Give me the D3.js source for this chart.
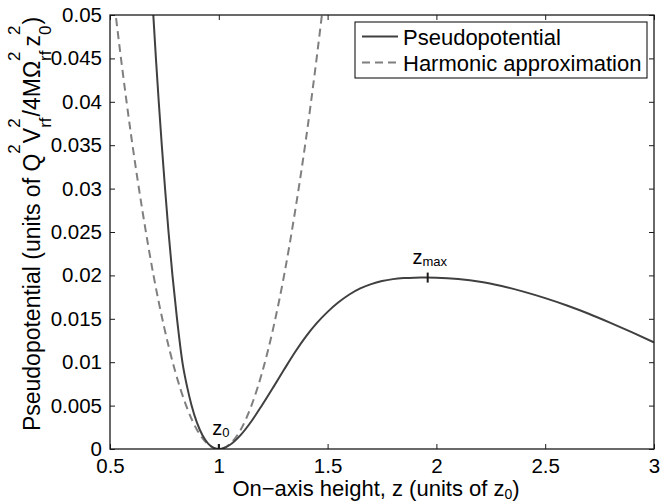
<!DOCTYPE html>
<html>
<head>
<meta charset="utf-8">
<script src="https://cdn.jsdelivr.net/npm/d3@7"></script>
<style>
  body { margin: 0; background: #fff; }
  svg { display: block; }
  text { font-family: "Liberation Sans", Arial, Helvetica, sans-serif; fill: #000; }
</style>
</head>
<body>
<svg id="chart" width="660" height="501"></svg>
<script>
// On-axis pseudopotential (units of Q^2 V_rf^2 / 4 M Omega_rf^2 z0^2) vs height z (units of z0)
const zPseudo = [0.68, 0.699, 0.711, 0.724, 0.738, 0.753, 0.769, 0.787, 0.808, 0.834, 0.855, 0.874,
                 0.90, 0.925, 0.95, 0.975, 1.0, 1.025, 1.05, 1.10, 1.15, 1.20, 1.25, 1.30,
                 1.35, 1.40, 1.45, 1.50, 1.55, 1.60, 1.65, 1.70, 1.75, 1.80, 1.85, 1.90, 1.95,
                 2.0, 2.1, 2.2, 2.3, 2.4, 2.5, 2.6, 2.7, 2.8, 2.9, 3.0];
const vPseudo = [0.0586, 0.050, 0.045, 0.040, 0.035, 0.030, 0.025, 0.020, 0.015, 0.0098, 0.0071, 0.0051,
                 0.0030, 0.00158, 0.00065, 0.00015, 0, 0.00013, 0.00046, 0.0016, 0.0032, 0.0051, 0.0071, 0.00915,
                 0.01115, 0.01295, 0.0145, 0.0158, 0.0169, 0.0178, 0.0185, 0.0190, 0.01935, 0.01957, 0.01969, 0.01974, 0.01975,
                 0.01973, 0.01958, 0.01928, 0.01878, 0.01813, 0.01738, 0.01653, 0.01558, 0.01453, 0.01343, 0.01228];

// Harmonic approximation about the trap minimum
const zHarm = [0.50, 0.55, 0.60, 0.65, 0.70, 0.75, 0.80, 0.85, 0.90, 0.95, 1.00,
               1.05, 1.10, 1.15, 1.20, 1.25, 1.30, 1.35, 1.40, 1.45, 1.50];
const vHarm = [0.0556, 0.0451, 0.0356, 0.0273, 0.0200, 0.0139, 0.0089, 0.0050, 0.0022, 0.00056, 0,
               0.00056, 0.0022, 0.0050, 0.0089, 0.0139, 0.0200, 0.0273, 0.0356, 0.0451, 0.0556];

const seriesNames = ["Pseudopotential", "Harmonic approximation"];

// Marked points: trap minimum z0 and barrier maximum zmax
const markZ = [1.0, 1.96];
const markV = [0, 0.01975];
const markSub = ["0", "max"];

const xTickValues = [0.5, 1, 1.5, 2, 2.5, 3];
const xTickLabels = ["0.5", "1", "1.5", "2", "2.5", "3"];
const yTickValues = [0, 0.005, 0.01, 0.015, 0.02, 0.025, 0.03, 0.035, 0.04, 0.045, 0.05];
const yTickLabels = ["0", "0.005", "0.01", "0.015", "0.02", "0.025", "0.03", "0.035", "0.04", "0.045", "0.05"];

const W = 660, H = 501;
const margin = { left: 110, right: 6, top: 15, bottom: 52 };
const pw = W - margin.left - margin.right;
const ph = H - margin.top - margin.bottom;

const svg = d3.select("#chart");
const x = d3.scaleLinear().domain([0.5, 3]).range([margin.left, margin.left + pw]);
const y = d3.scaleLinear().domain([0, 0.05]).range([margin.top + ph, margin.top]);

svg.append("defs").append("clipPath").attr("id", "plotclip")
  .append("rect").attr("x", margin.left).attr("y", margin.top).attr("width", pw).attr("height", ph);

const TICK_FONT = 20.5;
const axisColor = "#1a1a1a";

// Axes with inward ticks on all four sides
function styleAxis(g) {
  g.select(".domain").remove();
  g.selectAll(".tick line").attr("stroke", axisColor).attr("stroke-width", 1);
  g.selectAll(".tick text").attr("font-size", TICK_FONT).attr("fill", "#000")
    .attr("font-family", '"Liberation Sans", Arial, sans-serif');
}
svg.append("g").attr("transform", `translate(0,${margin.top + ph})`)
  .call(d3.axisBottom(x).tickValues(xTickValues).tickFormat((d, i) => xTickLabels[i])
    .tickSizeInner(-5).tickSizeOuter(0).tickPadding(9))
  .call(styleAxis);
svg.append("g").attr("transform", `translate(0,${margin.top})`)
  .call(d3.axisTop(x).tickValues(xTickValues).tickFormat("").tickSizeInner(-5).tickSizeOuter(0))
  .call(styleAxis);
svg.append("g").attr("transform", `translate(${margin.left},0)`)
  .call(d3.axisLeft(y).tickValues(yTickValues).tickFormat((d, i) => yTickLabels[i])
    .tickSizeInner(-5).tickSizeOuter(0).tickPadding(8))
  .call(styleAxis);
svg.append("g").attr("transform", `translate(${margin.left + pw},0)`)
  .call(d3.axisRight(y).tickValues(yTickValues).tickFormat("").tickSizeInner(-5).tickSizeOuter(0))
  .call(styleAxis);

// Curves
const plot = svg.append("g").attr("clip-path", "url(#plotclip)");
const line = d3.line().x(d => x(d[0])).y(d => y(d[1])).curve(d3.curveMonotoneX);

plot.append("path").datum(zHarm.map((z, i) => [z, vHarm[i]]))
  .attr("d", line).attr("fill", "none").attr("stroke", "#7f7f7f")
  .attr("stroke-width", 2).attr("stroke-dasharray", "8,5");
plot.append("path").datum(zPseudo.map((z, i) => [z, vPseudo[i]]))
  .attr("d", line).attr("fill", "none").attr("stroke", "#404040")
  .attr("stroke-width", 2);

// Box
svg.append("rect").attr("x", margin.left).attr("y", margin.top).attr("width", pw).attr("height", ph)
  .attr("fill", "none").attr("stroke", axisColor).attr("stroke-width", 1.3);

// Marker ticks and labels
markZ.forEach((z, i) => {
  const px = x(z), py = y(markV[i]);
  plot.append("line").attr("x1", px).attr("x2", px).attr("y1", py - 5).attr("y2", py + 5)
    .attr("stroke", "#1a1a1a").attr("stroke-width", 2);
  const t = svg.append("text").attr("x", px + 2).attr("y", py - 14)
    .attr("text-anchor", "middle").attr("font-size", 20);
  t.append("tspan").text("z");
  t.append("tspan").attr("dy", 2).attr("font-size", 13).text(markSub[i]);
});

// X label
const xl = svg.append("text").attr("x", 376).attr("y", 496)
  .attr("text-anchor", "middle").attr("font-size", 22);
xl.append("tspan").text("On\u2212axis height, z (units of z");
xl.append("tspan").attr("dy", 3).attr("font-size", 14).text("0");
xl.append("tspan").attr("dy", -3).text(")");

// Y label: laid out piece by piece so that super- and subscripts can stack
function richText(parent, parts, size, small, raise, drop) {
  const g = parent.append("g");
  let cx = 0;
  parts.forEach(p => {
    if (p.t !== undefined) {
      const el = g.append("text").attr("x", cx).attr("y", 0).attr("font-size", size).text(p.t);
      cx += el.node().getComputedTextLength();
    } else {
      let w = 0;
      if (p.sup) {
        const el = g.append("text").attr("x", cx).attr("y", -raise).attr("font-size", small).text(p.sup);
        w = Math.max(w, el.node().getComputedTextLength());
      }
      if (p.sub) {
        const el = g.append("text").attr("x", cx).attr("y", drop).attr("font-size", small).text(p.sub);
        w = Math.max(w, el.node().getComputedTextLength());
      }
      cx += w + (p.pad || 0);
    }
  });
  g.attr("transform", `translate(${-cx / 2},0)`);
  return cx;
}
const yl = svg.append("g").attr("transform", `translate(40,224) rotate(-90)`);
richText(yl, [
  { t: "Pseudopotential (units of Q" },
  { sup: "2", pad: 1 },
  { t: "V" },
  { sup: "2", sub: "rf", pad: 1 },
  { t: "/4M\u03A9" },
  { sup: "2", sub: "rf", pad: 4 },
  { t: "z" },
  { sup: "2", sub: "0", pad: 1 },
  { t: ")" }
], 23, 17, 20, 11);

// Legend
const lg = svg.append("g");
lg.append("rect").attr("x", 355).attr("y", 22).attr("width", 292).attr("height", 56)
  .attr("fill", "#fff").attr("stroke", "#000").attr("stroke-width", 1);
const legendRows = [
  { name: seriesNames[0], color: "#404040", dash: null, cy: 36.5 },
  { name: seriesNames[1], color: "#7f7f7f", dash: "8,5", cy: 62.5 }
];
legendRows.forEach(r => {
  lg.append("line").attr("x1", 362).attr("x2", 398).attr("y1", r.cy).attr("y2", r.cy)
    .attr("stroke", r.color).attr("stroke-width", 2).attr("stroke-dasharray", r.dash);
  lg.append("text").attr("x", 403).attr("y", r.cy + 8).attr("font-size", 22).text(r.name);
});
</script>
</body>
</html>
